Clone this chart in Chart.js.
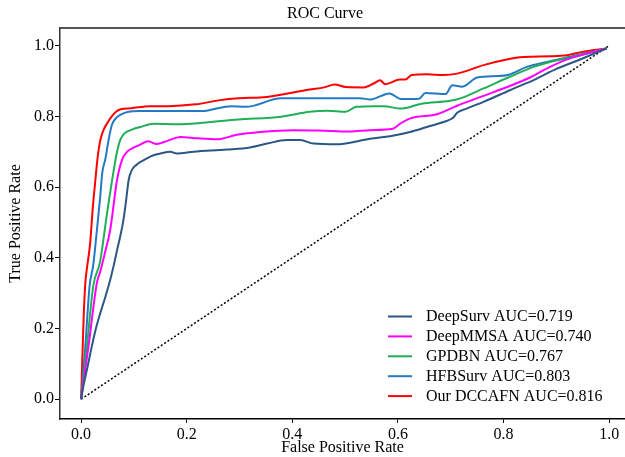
<!DOCTYPE html>
<html>
<head>
<meta charset="utf-8">
<script src="https://cdn.jsdelivr.net/npm/chart.js@4.4.1/dist/chart.umd.min.js"></script>
<style>
html,body{margin:0;padding:0;background:#fff;}
#wrap{width:625px;height:457px;}
</style>
</head>
<body>
<div id="wrap"><canvas id="c" width="625" height="457"></canvas></div>
<script>
// ---- data ----
const seriesNames = ["DeepSurv AUC=0.719","DeepMMSA AUC=0.740","GPDBN AUC=0.767","HFBSurv AUC=0.803","Our DCCAFN AUC=0.816"];
const tickValues = [0.0,0.2,0.4,0.6,0.8,1.0];

const fprDeepSurv = [0,0.004,0.012,0.02,0.028,0.036,0.046,0.055,0.062,0.068,0.074,0.08,0.085,0.09,0.096,0.104,0.112,0.124,0.137,0.15,0.169,0.181,0.213,0.276,0.32,0.352,0.39,0.415,0.44,0.484,0.528,0.547,0.585,0.623,0.655,0.686,0.705,0.712,0.73,0.762,0.812,0.863,0.901,0.945,0.995];
const tprDeepSurv = [0,0.035,0.09,0.148,0.2,0.242,0.29,0.337,0.38,0.421,0.46,0.506,0.56,0.62,0.648,0.662,0.671,0.681,0.69,0.695,0.70,0.695,0.70,0.706,0.712,0.723,0.733,0.733,0.723,0.721,0.731,0.737,0.744,0.756,0.77,0.784,0.797,0.81,0.822,0.841,0.874,0.907,0.935,0.961,0.992];

const fprDeepMMSA = [0,0.014,0.03,0.036,0.046,0.055,0.068,0.077,0.087,0.1,0.112,0.127,0.143,0.162,0.188,0.22,0.257,0.295,0.339,0.402,0.45,0.509,0.547,0.59,0.605,0.625,0.674,0.712,0.762,0.812,0.85,0.888,0.926,0.995];
const tprDeepMMSA = [0,0.15,0.33,0.36,0.42,0.478,0.62,0.675,0.70,0.712,0.72,0.73,0.722,0.73,0.742,0.738,0.735,0.748,0.756,0.761,0.76,0.757,0.761,0.765,0.78,0.795,0.806,0.83,0.858,0.886,0.91,0.94,0.964,0.992];

const fprGPDBN = [0,0.011,0.023,0.036,0.049,0.062,0.068,0.074,0.082,0.095,0.112,0.137,0.183,0.23,0.298,0.379,0.433,0.467,0.501,0.521,0.555,0.573,0.605,0.645,0.699,0.718,0.762,0.812,0.857,0.888,0.939,0.995];
const tprGPDBN = [0,0.15,0.32,0.39,0.525,0.65,0.70,0.733,0.752,0.762,0.77,0.779,0.778,0.782,0.791,0.799,0.813,0.816,0.813,0.827,0.829,0.829,0.822,0.836,0.844,0.851,0.879,0.912,0.94,0.954,0.97,0.992];

const fprHFBSurv = [0,0.008,0.016,0.023,0.03,0.036,0.04,0.046,0.052,0.058,0.066,0.075,0.09,0.11,0.163,0.23,0.244,0.284,0.312,0.379,0.433,0.528,0.548,0.584,0.606,0.64,0.652,0.69,0.703,0.722,0.75,0.79,0.81,0.844,0.888,0.939,0.995];
const tprHFBSurv = [0,0.15,0.32,0.38,0.48,0.57,0.64,0.68,0.733,0.775,0.795,0.805,0.813,0.815,0.815,0.815,0.818,0.829,0.827,0.851,0.851,0.851,0.848,0.865,0.849,0.85,0.866,0.863,0.888,0.884,0.91,0.914,0.918,0.94,0.956,0.973,0.992];

const fprDCCAFN = [0,0.002,0.005,0.008,0.011,0.017,0.022,0.027,0.031,0.036,0.042,0.049,0.058,0.066,0.075,0.095,0.13,0.165,0.217,0.264,0.298,0.352,0.433,0.46,0.48,0.501,0.535,0.554,0.566,0.576,0.604,0.614,0.626,0.655,0.686,0.712,0.762,0.806,0.838,0.888,0.92,0.951,0.995];
const tprDCCAFN = [0,0.10,0.24,0.33,0.37,0.44,0.54,0.62,0.68,0.73,0.76,0.78,0.80,0.813,0.82,0.823,0.829,0.829,0.834,0.846,0.851,0.855,0.876,0.882,0.89,0.883,0.882,0.893,0.902,0.891,0.904,0.904,0.917,0.919,0.917,0.921,0.945,0.961,0.968,0.97,0.973,0.983,0.992];

const diagX = [0,1];
const diagY = [0,1];

const colors = ["#2a5783","#ff00ff","#22ae58","#2479c4","#ff0000"];

// ---- build ----
function pts(xs, ys){ return xs.map((x,i)=>({x:x, y:ys[i]})); }
const seriesX = [fprDeepSurv,fprDeepMMSA,fprGPDBN,fprHFBSurv,fprDCCAFN];
const seriesY = [tprDeepSurv,tprDeepMMSA,tprGPDBN,tprHFBSurv,tprDCCAFN];

const datasets = seriesNames.map((n,i)=>({
  label:n, data:pts(seriesX[i],seriesY[i]), borderColor:colors[i], backgroundColor:colors[i],
  borderWidth:2, pointRadius:0, fill:false, cubicInterpolationMode:'monotone'
}));
datasets.push({label:'_diag', data:pts(diagX,diagY), borderColor:'#000', borderWidth:1.5,
  borderDash:[2,2], pointRadius:0, fill:false});

const FONT = "'Liberation Serif','Times New Roman',serif";

const deco = {
  id:'deco',
  beforeDraw(chart){
    const ctx = chart.ctx;
    ctx.save(); ctx.fillStyle='#fff'; ctx.fillRect(0,0,chart.width,chart.height); ctx.restore();
  },
  afterDraw(chart){
    const ctx = chart.ctx, a = chart.chartArea;
    ctx.save();
    // top frame line
    ctx.strokeStyle='#555'; ctx.lineWidth=2;
    ctx.beginPath(); ctx.moveTo(a.left, a.top); ctx.lineTo(a.right, a.top); ctx.stroke();
    // title
    ctx.fillStyle='#000'; ctx.font="16px "+FONT; ctx.textAlign='center'; ctx.textBaseline='middle';
    ctx.fillText('ROC Curve', 325, 14);
    // legend
    ctx.textAlign='left';
    chart.data.datasets.forEach((ds,i)=>{
      if (ds.label.startsWith('_')) return;
      const y = 316.5 + i*19.9;
      ctx.strokeStyle = ds.borderColor; ctx.lineWidth=2; ctx.setLineDash([]);
      ctx.beginPath(); ctx.moveTo(388, y); ctx.lineTo(412, y); ctx.stroke();
      ctx.fillStyle='#000';
      ctx.fillText(ds.label, 426, y+0.5);
    });
    ctx.restore();
  }
};

new Chart(document.getElementById('c'), {
  type:'line',
  data:{datasets},
  options:{
    responsive:false, animation:false, devicePixelRatio:1,
    layout:{padding:{top:28,left:0,right:0,bottom:0}},
    plugins:{legend:{display:false}, title:{display:false}, tooltip:{enabled:false}},
    scales:{
      x:{type:'linear', min:-0.04, max:1.03,
        afterBuildTicks(s){ s.ticks = tickValues.map(v=>({value:v})); },
        afterFit(s){ s.height = 38; },
        grid:{drawOnChartArea:false, drawTicks:true, tickLength:4, color:'#000', lineWidth:1},
        border:{display:true, color:'#000', width:1.5},
        ticks:{color:'#000', padding:2, font:{family:FONT, size:16}, callback:v=>v.toFixed(1), maxRotation:0},
        title:{display:true, text:'False Positive Rate', color:'#000', font:{family:FONT,size:16}, padding:{top:0,bottom:0}}
      },
      y:{type:'linear', min:-0.056, max:1.05,
        afterBuildTicks(s){ s.ticks = tickValues.map(v=>({value:v})); },
        afterFit(s){ s.width = 60; },
        grid:{drawOnChartArea:false, drawTicks:true, tickLength:5, color:'#000', lineWidth:1},
        border:{display:true, color:'#333', width:1.5},
        ticks:{color:'#000', padding:1, font:{family:FONT, size:16}, callback:v=>v.toFixed(1)},
        title:{display:true, text:'True Positive Rate', color:'#000', font:{family:FONT,size:16}, padding:{top:6,bottom:0}}
      }
    }
  },
  plugins:[deco]
});
</script>
</body>
</html>
